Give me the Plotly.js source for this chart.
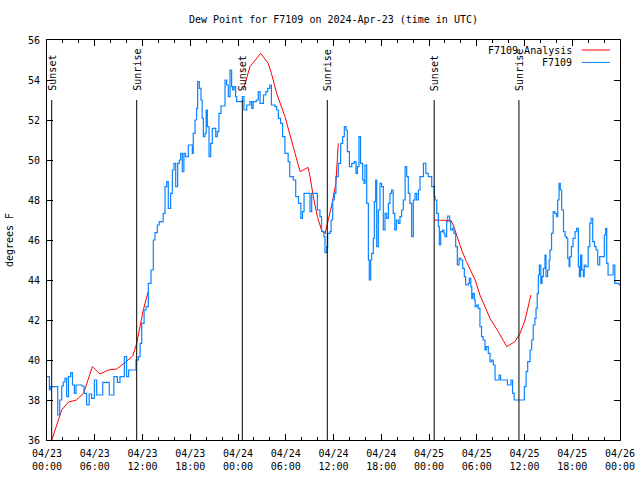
<!DOCTYPE html>
<html><head><meta charset="utf-8">
<script src="https://cdn.plot.ly/plotly-3.0.1.min.js"></script>
<style>html,body{margin:0;padding:0;background:#fff}#chart{width:640px;height:480px}</style>
</head><body><div id="chart"></div>
<script>
// hours after 2024-04-23 00:00 UTC
const blueHours = [0.0,0.3,0.4,1.2,1.35,1.6,1.85,2.05,2.26,2.47,2.7,2.98,3.2,3.44,3.64,4.36,4.65,4.98,5.3,5.6,5.95,6.24,6.57,7.0,7.5,7.83,8.25,8.4,8.84,9.17,9.5,9.72,10.0,10.26,10.93,11.18,11.48,11.7,11.9,12.2,12.45,12.73,13.07,13.36,13.57,13.86,14.1,14.4,14.6,14.83,15.04,15.24,15.54,15.75,15.96,16.17,16.42,16.63,16.8,17.0,17.2,17.4,17.76,18.0,18.26,18.38,18.6,18.8,18.93,19.14,19.35,19.5,19.65,19.85,20.0,20.15,20.36,20.57,20.77,20.98,21.2,21.4,21.6,21.86,22.28,22.37,22.57,22.78,23.0,23.2,23.33,23.5,23.7,23.83,24.25,24.54,24.75,25.1,25.5,25.72,25.9,26.3,26.55,26.77,27.2,27.5,27.73,28.0,28.2,28.65,28.86,29.07,29.36,29.6,29.9,30.3,30.5,30.95,31.25,31.6,31.9,32.1,32.3,32.85,33.05,33.26,33.8,33.97,34.3,34.5,34.8,34.93,35.15,35.27,35.56,35.7,35.9,36.1,36.3,36.6,36.9,37.15,37.36,37.57,37.74,38.0,38.3,38.6,38.83,39.0,39.2,39.4,39.66,39.85,39.95,40.17,40.38,40.5,40.67,40.8,41.0,41.13,41.3,41.43,41.63,41.84,42.05,42.26,42.47,42.68,42.9,43.1,43.3,43.5,43.7,43.9,44.14,44.35,44.56,44.77,45.0,45.2,45.4,45.6,45.82,46.03,46.25,46.45,46.67,46.87,47.3,47.6,47.9,48.34,48.67,48.75,48.97,49.17,49.3,49.47,49.7,49.88,50.0,50.22,50.35,50.6,50.73,50.95,51.14,51.35,51.56,51.77,52.0,52.23,52.44,52.6,52.94,53.07,53.25,53.37,53.5,53.7,53.8,54.0,54.2,54.4,54.6,54.8,55.04,55.2,55.45,55.67,55.88,56.08,56.3,56.8,57.0,57.68,57.85,58.1,58.3,58.5,58.7,59.9,59.98,60.2,60.4,60.7,60.9,61.1,61.3,61.45,61.6,61.74,61.87,62.05,62.2,62.37,62.58,62.7,62.9,63.1,63.2,63.4,63.6,63.8,64.04,64.17,64.34,64.5,64.67,64.9,65.1,65.3,65.43,65.6,65.7,65.9,66.1,66.35,66.56,66.77,66.9,67.05,67.2,67.4,67.5,67.7,68.0,68.2,68.36,68.57,68.8,69.0,69.2,69.45,69.8,70.03,70.2,70.33,70.5,70.95,71.14,71.35,71.9,72.0];
const blueValues = [39.17,38.5,38.67,38.67,37.25,38.0,38.7,38.9,39.1,38.17,39.17,39.37,38.75,38.33,38.75,38.7,38.33,37.75,38.3,38.08,39.0,38.25,38.25,38.88,38.88,38.25,38.25,39.17,38.88,39.17,39.17,40.17,39.17,39.5,39.5,40.0,40.17,40.83,41.83,42.5,42.67,43.83,44.5,46.0,46.37,46.75,46.92,46.9,47.33,48.67,48.92,47.58,48.33,49.5,49.83,48.67,49.83,50.0,50.33,49.42,50.33,50.17,50.75,50.75,50.33,51.33,52.0,52.58,53.92,53.58,53.0,52.08,51.17,51.33,52.5,51.67,50.17,50.83,51.58,51.58,51.17,51.42,52.33,52.7,52.7,54.0,53.75,53.17,54.5,53.67,53.5,53.67,53.17,52.92,52.92,53.17,52.5,52.75,52.92,52.58,52.92,53.0,53.42,52.83,53.25,53.42,53.58,53.75,52.75,52.67,52.5,52.08,51.83,51.17,50.33,49.92,49.17,49.0,48.17,47.83,47.08,47.42,48.33,48.33,47.42,48.33,48.33,47.5,47.17,46.42,46.17,45.37,45.67,46.33,46.42,47.0,48.0,48.33,49.17,49.83,50.83,51.17,51.67,51.5,50.42,49.67,49.83,49.92,49.33,49.67,51.17,49.83,49.0,48.83,49.75,47.83,45.0,44.0,45.0,45.33,46.08,47.92,49.0,45.67,47.5,48.83,48.67,46.5,47.33,47.08,47.83,48.33,48.5,47.33,46.5,47.0,46.83,47.17,47.5,48.0,49.67,49.17,48.33,47.83,46.17,48.0,48.33,48.0,48.5,49.17,49.83,49.33,49.17,48.67,48.17,48.0,47.33,46.67,45.75,46.42,46.5,46.33,46.17,46.92,47.2,46.92,46.5,46.58,46.33,45.67,44.75,45.08,45.0,44.58,44.17,43.75,43.83,44.08,43.67,43.08,43.33,43.0,42.67,42.75,42.58,41.67,41.17,41.0,40.5,40.67,40.33,39.92,40.0,39.75,39.0,39.25,39.0,39.0,38.75,38.75,39.0,38.33,38.0,38.0,38.67,39.42,39.92,40.5,41.0,41.75,42.08,42.58,43.33,44.25,44.75,43.83,44.17,44.58,45.25,44.17,44.5,45.0,45.5,46.33,47.42,47.33,47.17,48.0,48.83,48.5,47.5,46.42,46.17,46.08,45.08,44.67,45.17,45.67,46.08,46.42,46.58,44.67,44.17,45.25,44.5,44.17,44.75,44.67,45.67,46.83,47.08,45.92,45.67,45.5,44.75,45.17,45.17,46.25,46.58,44.83,44.25,44.25,44.75,43.83,43.75,43.75];

const redHours = [0.6,1.4,1.85,2.7,3.7,4.15,4.6,5.7,6.66,7.7,8.75,9.8,10.77,11.27,11.7,12.1,12.7,12.75,24.67,25.5,26.85,27.8,28.2,28.86,29.9,30.75,31.4,31.8,32.8,33.05,33.46,33.97,34.5,34.93,35.27,35.78,36.3,36.6,36.65,48.67,50.77,51.05,52.1,52.7,53.8,54.4,55.67,56.7,57.77,58.8,59.44,60.07,60.8];
const redValues = [36.0,37.0,37.5,37.9,38.0,38.17,38.33,39.67,39.3,39.5,39.55,39.87,40.2,40.83,41.67,42.5,43.4,null,53.5,54.67,55.33,54.83,54.33,53.33,52.17,51.0,50.0,49.42,49.63,49.17,48.17,47.17,46.5,46.3,46.83,47.75,48.83,50.83,null,47.0,46.97,46.75,45.5,44.92,44.0,43.25,42.08,41.42,40.67,40.92,41.33,42.0,43.25];

const sunLabels = ['Sunset','Sunrise','Sunset','Sunrise','Sunset','Sunrise'];
const sunHours = [0.59,11.27,24.54,35.22,48.65,59.3];

const seriesNames = ['F7109 Analysis','F7109'];
const seriesColors = ['#ff0000','#0a84ff'];

function toTime(h){
  const d = new Date(Date.UTC(2024,3,23) + h*3600000);
  return d.toISOString().replace('T',' ').slice(0,19);
}

const FONT = 'DejaVu Sans Mono, monospace';

const traces = [
  {x: redHours.map(toTime), y: redValues, type:'scatter', mode:'lines', name: seriesNames[0],
   line:{color:seriesColors[0], width:1}, connectgaps:false, showlegend:false},
  {x: blueHours.map(toTime), y: blueValues, type:'scatter', mode:'lines', name: seriesNames[1],
   line:{color:seriesColors[1], width:1.2, shape:'hv'}, showlegend:false}
];

const shapes = [];
const annotations = [];
sunHours.forEach((h,i)=>{
  shapes.push({type:'line', xref:'x', yref:'y', x0:toTime(h), x1:toTime(h), y0:36, y1:53,
    line:{color:'#000', width:1}});
  annotations.push({xref:'x', yref:'y', x:toTime(h), y:53.35, text:sunLabels[i], textangle:-90,
    showarrow:false, xanchor:'center', yanchor:'bottom', font:{family:FONT, size:10, color:'#000'}});
});
// gnuplot-style legend (text left of sample)
const legY = [0.975, 0.944];
seriesNames.forEach((n,i)=>{
  annotations.push({xref:'paper', yref:'paper', x:0.9197, y:legY[i], text:n, showarrow:false,
    xanchor:'right', yanchor:'middle', font:{family:FONT, size:10, color:'#000'}});
  shapes.push({type:'line', xref:'paper', yref:'paper', x0:0.9332, x1:0.9825, y0:legY[i], y1:legY[i],
    line:{color:seriesColors[i], width:1}});
});

const layout = {
  width:640, height:480,
  margin:{l:47, r:20, t:40, b:40},
  paper_bgcolor:'#fff', plot_bgcolor:'#fff',
  font:{family:FONT, size:10, color:'#000'},
  title:{text:'Dew Point for F7109 on 2024-Apr-23 (time in UTC)', x:0.5, xref:'paper', y:0.96, yref:'container', yanchor:'middle',
    font:{family:FONT, size:10, color:'#000'}},
  xaxis:{type:'date', range:['2024-04-23 00:00','2024-04-26 00:00'], dtick:21600000, tick0:'2024-04-23 00:00',
    tickformat:'%m/%d<br>%H:%M', ticks:'inside', ticklen:6, tickcolor:'#000', showline:true, linecolor:'#000', linewidth:1,
    mirror:'ticks', showgrid:false, zeroline:false, ticklabelstandoff:4,
    minor:{dtick:7200000, ticks:'inside', ticklen:3, tickcolor:'#000'}},
  yaxis:{range:[36,56], dtick:2, ticks:'inside', ticklen:6, tickcolor:'#000', showline:true, linecolor:'#000', linewidth:1,
    mirror:'ticks', showgrid:false, zeroline:false, ticklabelstandoff:4,
    title:{text:'degrees F', standoff:12, font:{family:FONT, size:10, color:'#000'}}},
  shapes: shapes,
  annotations: annotations,
  showlegend:false
};

Plotly.newPlot('chart', traces, layout, {staticPlot:true, displayModeBar:false});
</script>
</body></html>
